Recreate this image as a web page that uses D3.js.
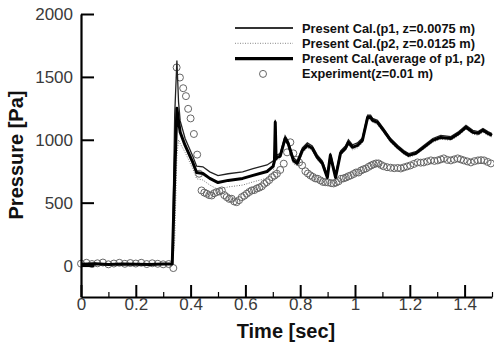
<!DOCTYPE html>
<html>
<head>
<meta charset="utf-8">
<script src="https://cdn.jsdelivr.net/npm/d3@7/dist/d3.min.js"></script>
<style>
  body { margin: 0; background: #fff; }
  svg { display: block; font-family: 'Liberation Sans', Arial, sans-serif; }
  .axis text { font-size: 17px; fill: #3a3a3a; }
  .axis line { stroke: #000; stroke-width: 2; }
  .axis path { stroke: #000; stroke-width: 2.2; }
  .title { font-size: 20px; font-weight: bold; fill: #111; }
  .legend text { font-size: 12px; font-weight: bold; fill: #111; }
</style>
</head>
<body>
<div class="container"></div>
<script>
// Simulation time (shared by the three computed curves)
const timeSec = [0, 0.05, 0.10, 0.15, 0.20, 0.25, 0.30, 0.333, 0.342, 0.350, 0.356, 0.362, 0.380, 0.408, 0.422, 0.445,
  0.470, 0.500, 0.537, 0.590, 0.628, 0.679, 0.701, 0.706, 0.709, 0.712, 0.716, 0.727, 0.745, 0.756, 0.775, 0.789,
  0.808, 0.826, 0.844, 0.862, 0.881, 0.899, 0.910, 0.929, 0.947, 0.965, 0.976, 0.991, 1.009, 1.027, 1.046, 1.057,
  1.064, 1.082, 1.104, 1.130, 1.156, 1.178, 1.196, 1.222, 1.251, 1.284, 1.313, 1.350, 1.379, 1.405, 1.430, 1.449,
  1.467, 1.485, 1.500];
const p1Pa = [14, 18, 12, 16, 14, 12, 16, 16, 1200, 1630, 1300, 1150, 1010, 870, 790, 785,
  745, 715, 730, 745, 770, 800, 830, 860, 1160, 870, 880, 890, 1030, 990, 860, 830,
  935, 975, 950, 880, 830, 720, 895, 720, 910, 950, 1000, 960, 975, 1015, 1195, 1195,
  1170, 1155, 1090, 1010, 955, 915, 890, 905, 955, 1010, 1035, 1025, 1065, 1115, 1075, 1065,
  1090, 1065, 1050];
const p2Pa = [6, 10, 4, 8, 6, 4, 8, 8, 200, 870, 1000, 970, 900, 770, 690, 680,
  640, 605, 625, 640, 665, 695, 745, 800, 1120, 830, 840, 850, 990, 950, 810, 795,
  895, 935, 915, 840, 795, 680, 855, 680, 875, 915, 960, 920, 935, 975, 1160, 1160,
  1140, 1120, 1060, 980, 925, 885, 860, 880, 925, 980, 1005, 995, 1035, 1085, 1045, 1035,
  1060, 1035, 1020];
const avgPa = [10, 14, 8, 12, 10, 8, 12, 12, 700, 1250, 1150, 1060, 955, 820, 740, 732,
  693, 660, 677, 693, 717, 748, 788, 830, 1139, 850, 860, 870, 1011, 971, 836, 812,
  916, 955, 932, 860, 812, 700, 876, 700, 892, 932, 979, 940, 955, 995, 1178, 1178,
  1154, 1138, 1075, 995, 940, 900, 876, 892, 940, 995, 1019, 1011, 1051, 1099, 1059, 1051,
  1075, 1051, 1035];

// Experiment (z = 0.01 m)
const expTime = [0, 0.02, 0.04, 0.06, 0.08, 0.10, 0.12, 0.14, 0.16, 0.18, 0.20, 0.22, 0.24, 0.26, 0.28, 0.30, 0.32, 0.337,
  0.349, 0.361, 0.373, 0.383, 0.391, 0.400, 0.412, 0.424, 0.431,
  0.440, 0.450, 0.459, 0.468, 0.477, 0.486, 0.495, 0.505, 0.514, 0.523, 0.532, 0.541, 0.550, 0.559, 0.568, 0.577,
  0.587, 0.596, 0.605, 0.614, 0.623, 0.632, 0.642, 0.651, 0.660, 0.669, 0.678, 0.687, 0.697, 0.706, 0.715,
  0.727, 0.740, 0.752, 0.764, 0.775, 0.785, 0.796, 0.807, 0.819, 0.828, 0.837, 0.846, 0.855, 0.864, 0.874, 0.883,
  0.892, 0.901, 0.913, 0.922, 0.931, 0.940, 0.949, 0.958, 0.967, 0.976, 0.985, 0.995, 1.004, 1.013, 1.022, 1.031,
  1.040, 1.050, 1.059, 1.068, 1.077, 1.086, 1.095, 1.104, 1.117, 1.130, 1.143, 1.156, 1.167, 1.178, 1.190, 1.202,
  1.215, 1.228, 1.240, 1.251, 1.264, 1.277, 1.290, 1.302, 1.313, 1.324, 1.337, 1.350, 1.362, 1.375, 1.386, 1.397,
  1.410, 1.423, 1.436, 1.449, 1.460, 1.471, 1.484, 1.496];
const expPa = [15, 22, 12, 18, 24, 10, 16, 22, 14, 20, 16, 22, 12, 18, 14, 10, 12, -20,
  1575, 1495, 1410, 1347, 1246, 1170, 1046, 882, 730,
  597, 580, 571, 560, 557, 575, 584, 590, 597, 560, 544, 530, 531, 510, 504, 520,
  544, 555, 571, 585, 597, 600, 613, 620, 630, 650, 663, 680, 703, 715, 730,
  760, 810, 900, 980, 892, 840, 820, 796, 750, 732, 717, 705, 693, 690, 677, 665,
  663, 661, 655, 653, 660, 670, 690, 693, 700, 710, 717, 728, 740, 740, 756, 765,
  772, 785, 796, 805, 812, 812, 800, 790, 782, 778, 774, 776, 772, 780, 788, 796,
  808, 820, 818, 820, 828, 836, 832, 836, 844, 852, 840, 836, 844, 852, 844, 836,
  828, 820, 830, 836, 838, 836, 824, 812];

const xTicks = [0, 0.2, 0.4, 0.6, 0.8, 1.0, 1.2, 1.4];
const xTickLabels = ['0', '0.2', '0.4', '0.6', '0.8', '1', '1.2', '1.4'];
const xMinorTicks = [0.1, 0.3, 0.5, 0.7, 0.9, 1.1, 1.3, 1.5];
const yTicks = [0, 500, 1000, 1500, 2000];
const legendLabels = ['Present Cal.(p1, z=0.0075 m)', 'Present Cal.(p2, z=0.0125 m)',
  'Present Cal.(average of p1, p2)', 'Experiment(z=0.01 m)'];

const w = 494;
const h = 345;

// Create the svg
const svg = d3.select('.container')
  .append('svg')
  .attr('width', w)
  .attr('height', h);

// Scales
const xScale = d3.scaleLinear().domain([0, 1.5]).range([81, 492]);
const yScale = d3.scaleLinear().domain([-250, 2000]).range([297, 14]);

// Experiment circles
svg.selectAll('.dot')
  .data(expTime)
  .enter()
  .append('circle')
  .attr('class', 'dot')
  .attr('cx', (d) => xScale(d))
  .attr('cy', (d, i) => yScale(expPa[i]))
  .attr('r', 3.5)
  .style('fill', 'none')
  .style('stroke', '#666')
  .style('stroke-width', 1);

// Computed curves
const line = d3.line()
  .x((d, i) => xScale(timeSec[i]))
  .y((d) => yScale(d));

svg.append('path')
  .attr('d', line(p2Pa))
  .style('fill', 'none')
  .style('stroke', '#777')
  .style('stroke-width', 1)
  .style('stroke-dasharray', '1,1.5');
svg.append('path')
  .attr('d', line(p1Pa))
  .style('fill', 'none')
  .style('stroke', '#222')
  .style('stroke-width', 1.3);
svg.append('path')
  .attr('d', line(avgPa))
  .style('fill', 'none')
  .style('stroke', '#000')
  .style('stroke-width', 3)
  .style('stroke-linejoin', 'round');

// Create x axis
const xAxis = d3.axisBottom(xScale)
  .tickValues(xTicks)
  .tickFormat((d, i) => xTickLabels[i])
  .tickSizeInner(-12)
  .tickSizeOuter(0)
  .tickPadding(1);
svg.append('g')
  .attr('class', 'axis')
  .attr('transform', 'translate(0,297)')
  .call(xAxis);

// Minor x ticks
svg.append('g')
  .attr('class', 'axis minor')
  .attr('transform', 'translate(0,297)')
  .call(d3.axisBottom(xScale).tickValues(xMinorTicks).tickFormat('').tickSizeInner(-5).tickSizeOuter(0))
  .call((g) => g.select('.domain').remove())
  .selectAll('line')
  .style('stroke-width', 1.2);

// Create y axis
const yAxis = d3.axisLeft(yScale)
  .tickValues(yTicks)
  .tickFormat(d3.format('d'))
  .tickSizeInner(-13)
  .tickSizeOuter(0)
  .tickPadding(8);
svg.append('g')
  .attr('class', 'axis')
  .attr('transform', 'translate(81,0)')
  .call(yAxis);

// Axis titles
svg.append('text')
  .attr('class', 'title')
  .attr('x', 286)
  .attr('y', 338)
  .attr('text-anchor', 'middle')
  .text('Time [sec]');
svg.append('text')
  .attr('class', 'title')
  .attr('transform', 'translate(23,155) rotate(-90)')
  .attr('text-anchor', 'middle')
  .text('Pressure [Pa]');

// Create the legend
const legendWidths = [173, 173, 183, 131];
const legend = svg.selectAll('.legend')
  .data(legendLabels)
  .enter()
  .append('g')
  .attr('class', 'legend')
  .attr('transform', (d, i) => 'translate(0,' + (28 + i * 15.3) + ')');

legend.append('text')
  .attr('x', 302)
  .attr('y', 4.5)
  .attr('textLength', (d, i) => legendWidths[i])
  .attr('lengthAdjust', 'spacingAndGlyphs')
  .text((d) => d);

legend.filter((d, i) => i < 3)
  .append('line')
  .attr('x1', 235)
  .attr('x2', 293)
  .style('stroke', (d, i) => ['#333', '#888', '#000'][i])
  .style('stroke-width', (d, i) => [2, 1, 3.2][i])
  .style('stroke-dasharray', (d, i) => (i === 1 ? '1,1.5' : null));

legend.filter((d, i) => i === 3)
  .append('circle')
  .attr('cx', 263)
  .attr('r', 3.5)
  .style('fill', 'none')
  .style('stroke', '#666');
</script>
</body>
</html>
